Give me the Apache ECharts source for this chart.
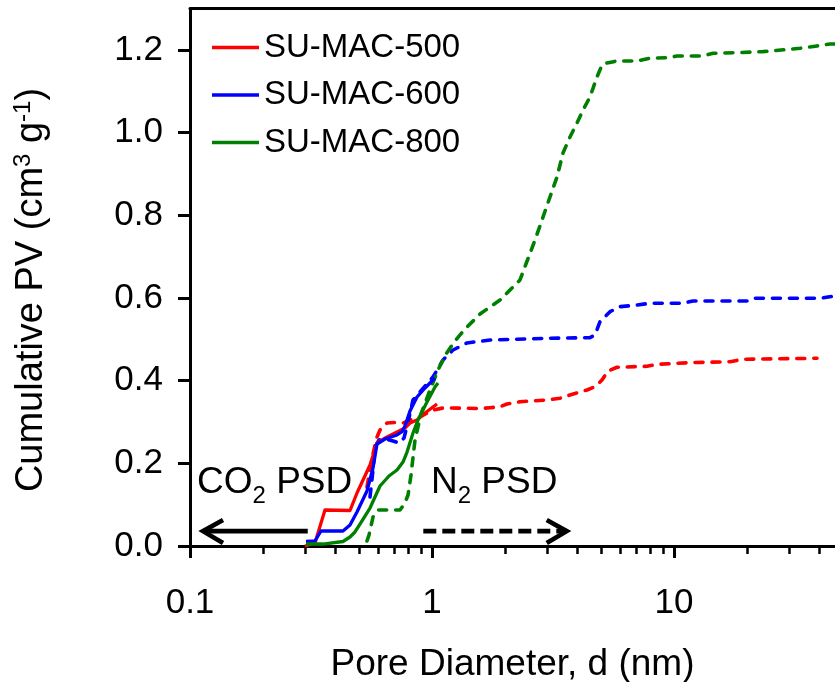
<!DOCTYPE html>
<html>
<head>
<meta charset="utf-8">
<script src="https://cdn.jsdelivr.net/npm/echarts@6/dist/echarts.min.js"></script>
<style>html,body{margin:0;padding:0;background:#fff}#c{width:835px;height:682px}</style>
</head>
<body>
<div id="c"></div>
<script>
// ---- data: [pore diameter (nm), cumulative pore volume (cm3/g)] ----
const mac500CO2 = [[0.2987,0],[0.3284,0.0073],[0.3612,0.0871],[0.4584,0.0859],[0.4898,0.1282],[0.5544,0.196],[0.5927,0.2492],[0.6516,0.2637],[0.7168,0.2758],[0.7733,0.2855],[0.811,0.2976],[0.867,0.3049],[0.9357,0.3218],[1.0095,0.3363],[1.0488,0.3436]];
const mac500N2 = [[0.5387,0.1428],[0.5651,0.2129],[0.5927,0.2637],[0.6097,0.2807],[0.6516,0.2976],[0.7032,0.2988],[0.7588,0.2976],[0.811,0.3049],[0.8752,0.3097],[1.0095,0.3291],[1.1104,0.3339],[1.343,0.3335],[1.579,0.3325],[1.737,0.3345],[1.91,0.337],[2.042,0.3436],[2.31,0.3491],[2.987,0.3533],[3.38,0.3574],[3.717,0.3654],[4.371,0.3774],[4.716,0.3854],[5.04,0.4016],[5.337,0.4234],[5.815,0.4324],[7.733,0.4348],[8.508,0.4396],[11.65,0.4435],[17.03,0.4459],[19.28,0.4517],[38.98,0.4542]];
const mac600CO2 = [[0.3015,0.0109],[0.3284,0.0121],[0.3477,0.0363],[0.4287,0.0363],[0.4584,0.0508],[0.4898,0.0823],[0.5387,0.1331],[0.5705,0.1887],[0.5927,0.2468],[0.6394,0.2589],[0.7168,0.2686],[0.7516,0.2766],[0.7733,0.2903],[0.811,0.3266],[0.867,0.3605],[0.9357,0.3823],[0.9811,0.3944],[1.029,0.4065]];
const mac600N2 = [[0.5544,0.1186],[0.5705,0.1839],[0.5814,0.2395],[0.604,0.2565],[0.6456,0.2589],[0.69,0.2541],[0.7305,0.2492],[0.7661,0.2613],[0.7961,0.3],[0.8347,0.3533],[0.892,0.3726],[1.0095,0.4089],[1.1104,0.45],[1.2212,0.4742],[1.3951,0.4912],[1.737,0.4984],[3.073,0.5025],[4.497,0.504],[4.716,0.5105],[4.945,0.5427],[5.439,0.5669],[5.984,0.579],[7.033,0.5831],[7.958,0.5872],[10.9,0.5872],[11.98,0.5928],[20.03,0.5928],[21.21,0.5993],[40.11,0.5993],[46.27,0.6049]];
const mac800CO2 = [[0.3015,0.0048],[0.3544,0.0048],[0.4287,0.0109],[0.4584,0.0218],[0.4806,0.0339],[0.504,0.0532],[0.5544,0.0919],[0.6097,0.1452],[0.6641,0.1694],[0.7168,0.1839],[0.7588,0.2032],[0.7885,0.2274],[0.8347,0.2734],[0.8752,0.3049],[0.9535,0.3484],[1.029,0.3847],[1.0588,0.3944]];
const mac800N2 = [[0.5387,0.0121],[0.5492,0.0266],[0.5705,0.0702],[0.5984,0.0871],[0.6702,0.0871],[0.7375,0.0871],[0.7733,0.104],[0.7961,0.1234],[0.8189,0.1718],[0.8507,0.2565],[0.9006,0.3194],[0.9811,0.3774],[1.0588,0.4258],[1.1425,0.4646],[1.2445,0.496],[1.369,0.525],[1.579,0.5613],[1.91,0.5952],[2.141,0.6242],[2.31,0.6436],[2.665,0.7404],[3.073,0.8444],[3.285,0.8928],[3.478,0.9509],[3.717,0.9896],[3.974,1.0235],[4.207,1.0549],[4.497,1.0864],[4.806,1.1348],[5.04,1.1638],[5.286,1.1686],[5.815,1.1735],[7.033,1.1735],[7.958,1.18],[9.627,1.1815],[10.29,1.1856],[13.18,1.1856],[14.5,1.1921],[18.21,1.1936],[23.32,1.196],[30.16,1.2018],[33.17,1.2042],[38.98,1.2098],[44.12,1.2146],[46.27,1.2146]];

const seriesNames = ['SU-MAC-500', 'SU-MAC-600', 'SU-MAC-800'];
const xMajorTicks = [0.1, 1, 10];
const xMinorTicks = [0.2,0.3,0.4,0.5,0.6,0.7,0.8,0.9,2,3,4,5,6,7,8,9,20,30,40];
const yTicks = [0, 0.2, 0.4, 0.6, 0.8, 1.0, 1.2];
const xMin = 0.1, xMax = 46.27, yMin = 0, yMax = 1.3;

// annotation arrows (data coords)
const co2ArrowShaft = [[0.1131,0.036],[0.3066,0.036]];
const co2ArrowHead = [[0.1369,0.0629],[0.1131,0.036],[0.1369,0.0073]];
const n2ArrowShaft = [[0.9206,0.036],[3.604,0.036]];
const n2ArrowHead = [[2.979,0.0629],[3.604,0.036],[2.979,0.0073]];

const FF = "'Liberation Sans', Arial, sans-serif";
const RED = '#FF0000', BLUE = '#0000FF', GREEN = '#008000';

function solid(name, data, color) {
  return {name, type:'line', data, symbol:'none', color, z:3,
    lineStyle:{color, width:3.3, join:'round'}, animation:false};
}
function dashed(name, data, color) {
  return {name, type:'line', data, symbol:'none', color, z:2,
    lineStyle:{color, width:3.6, type:[8,9], cap:'round', join:'round'}, animation:false};
}
function annot(data, dash) {
  return {type:'line', data, symbol:'none', silent:true, z:4,
    lineStyle:{color:'#000', width:4.6, type: dash ? [13,6] : 'solid', join:'miter'}, animation:false};
}

const chart = echarts.init(document.getElementById('c'), null, {renderer:'canvas'});
chart.setOption({
  animation:false,
  backgroundColor:'#fff',
  grid:{left:190, right:0, top:8.67, bottom:136, containLabel:false, outerBoundsMode:'none'},
  legend:{
    data: seriesNames, orient:'vertical', left:212, top:31, padding:0,
    icon:'rect', itemWidth:47, itemHeight:3.5, itemGap:14.5,
    selectedMode:false,
    textStyle:{fontFamily:FF, fontSize:33, color:'#000', lineHeight:33}
  },
  xAxis:[
    {type:'log', min:xMin, max:xMax, position:'bottom',
     axisLine:{show:true, lineStyle:{color:'#000', width:3}},
     axisTick:{show:true, inside:false, length:12, customValues:xMajorTicks, lineStyle:{color:'#000', width:3}},
     axisLabel:{show:true, customValues:xMajorTicks, margin:40, fontFamily:FF, fontSize:35, color:'#000',
       formatter: v => (Math.abs(v-0.1)<1e-9 ? '0.1' : String(Math.round(v)))},
     splitLine:{show:false}, minorTick:{show:false},
     name:'Pore Diameter, d (nm)', nameLocation:'middle', nameGap:100,
     nameTextStyle:{fontFamily:FF, fontSize:37, color:'#000'}},
    {type:'log', min:xMin, max:xMax, position:'bottom', gridIndex:0,
     axisLine:{show:false},
     axisTick:{show:true, length:8, customValues:xMinorTicks, lineStyle:{color:'#000', width:2.5}},
     axisLabel:{show:false}, splitLine:{show:false}},
    {type:'log', min:xMin, max:xMax, position:'top', gridIndex:0,
     axisLine:{show:true, lineStyle:{color:'#000', width:3}},
     axisTick:{show:false}, axisLabel:{show:false}, splitLine:{show:false}}
  ],
  yAxis:{type:'value', min:yMin, max:yMax, interval:0.2,
    axisLine:{show:true, lineStyle:{color:'#000', width:3}},
    axisTick:{show:true, length:12, customValues:yTicks, lineStyle:{color:'#000', width:3}},
    axisLabel:{customValues:yTicks, margin:27, fontFamily:FF, fontSize:35, color:'#000',
      formatter: v => v.toFixed(1)},
    splitLine:{show:false}},
  graphic:[
    {type:'text', x:32, y:290, rotation:Math.PI/2, silent:true,
     style:{text:'{a|Cumulative PV (cm}{b|3}{a| g}{b|-1}{a|)}', align:'center', verticalAlign:'middle',
       rich:{a:{fontFamily:FF, fontSize:38, lineHeight:42, fill:'#000'},
             b:{fontFamily:FF, fontSize:24, lineHeight:24, verticalAlign:'top', fill:'#000'}}}},
    {type:'text', x:197, y:458, silent:true, z:10,
     style:{text:'{a|CO}{b|2}{a| PSD}', align:'left', verticalAlign:'top',
       rich:{a:{fontFamily:FF, fontSize:37, lineHeight:50, fill:'#000'},
             b:{fontFamily:FF, fontSize:24, lineHeight:24, verticalAlign:'bottom', fill:'#000'}}}},
    {type:'text', x:431, y:458, silent:true, z:10,
     style:{text:'{a|N}{b|2}{a| PSD}', align:'left', verticalAlign:'top',
       rich:{a:{fontFamily:FF, fontSize:37, lineHeight:50, fill:'#000'},
             b:{fontFamily:FF, fontSize:24, lineHeight:24, verticalAlign:'bottom', fill:'#000'}}}}
  ],
  series:[
    solid(seriesNames[0], mac500CO2, RED),
    solid(seriesNames[1], mac600CO2, BLUE),
    solid(seriesNames[2], mac800CO2, GREEN),
    dashed(seriesNames[0]+' N2', mac500N2, RED),
    dashed(seriesNames[1]+' N2', mac600N2, BLUE),
    dashed(seriesNames[2]+' N2', mac800N2, GREEN),
    annot(co2ArrowShaft, false),
    annot(co2ArrowHead, false),
    annot(n2ArrowShaft, true),
    annot(n2ArrowHead, false)
  ]
});
</script>
</body>
</html>
